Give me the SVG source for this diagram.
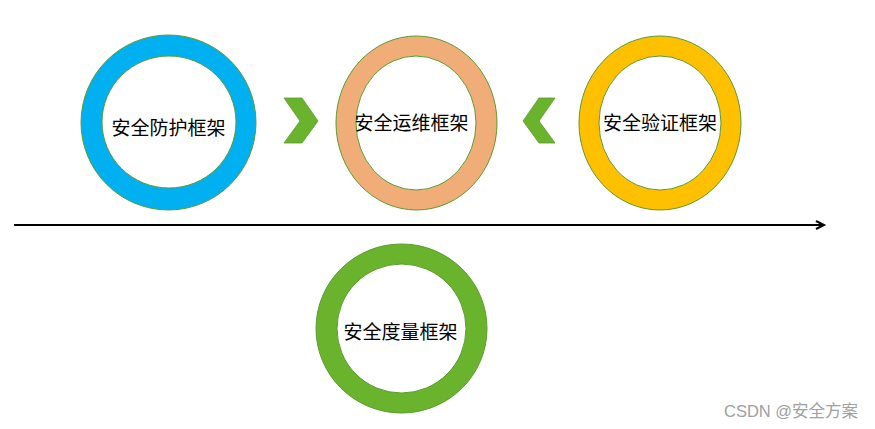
<svg xmlns="http://www.w3.org/2000/svg" width="875" height="429" viewBox="0 0 875 429">
<style>
.ring{fill-rule:evenodd;stroke:#5b9b2e;stroke-width:1}
.lbl{font-family:"Liberation Sans","Noto Sans CJK SC",sans-serif;font-size:19px;fill:#000;text-anchor:middle}
.chev{fill:#6ab42d;stroke:#5b9b2e;stroke-width:0.8}
.wm{font-family:"Liberation Sans","Noto Sans CJK SC",sans-serif;font-size:16.5px;fill:#a0a0a0}
</style>
<defs>
<marker id="ah" markerWidth="12" markerHeight="12" refX="9" refY="5" orient="auto" markerUnits="userSpaceOnUse">
<path d="M1,1 L9,5 L1,9" fill="none" stroke="#000" stroke-width="2"/>
</marker>
</defs>
<rect width="875" height="429" fill="#fff"/>
<g id="connectors">
<line x1="14" y1="225" x2="824" y2="225" stroke="#000" stroke-width="2" marker-end="url(#ah)"/>
<polygon class="chev" points="284,98 302,98 318,121 302,143 284,143 300,121"/>
<polygon class="chev" points="555,98 539,98 523,121 539,143 555,143 539,121"/>
</g>
<g id="n1">
<path class="ring" fill="#00b0f0" d="M81,122.5 a87.5,87.5 0 1,0 175,0 a87.5,87.5 0 1,0 -175,0 Z M102,122 a67,66 0 1,0 134,0 a67,66 0 1,0 -134,0 Z"/>
<text class="lbl" x="168.5" y="135">安全防护框架</text>
</g>
<g id="n2">
<path class="ring" fill="#f0ad78" d="M336,123 a80.5,87 0 1,0 161,0 a80.5,87 0 1,0 -161,0 Z M356,123 a60,67 0 1,0 120,0 a60,67 0 1,0 -120,0 Z"/>
<text class="lbl" x="411.5" y="129.5">安全运维框架</text>
</g>
<g id="n3">
<path class="ring" fill="#ffc000" d="M579,123 a81,87 0 1,0 162,0 a81,87 0 1,0 -162,0 Z M599,123 a61,67 0 1,0 122,0 a61,67 0 1,0 -122,0 Z"/>
<text class="lbl" x="660" y="129.5">安全验证框架</text>
</g>
<g id="n4">
<path class="ring" fill="#6ab42d" d="M316,328.5 a85.5,84.5 0 1,0 171,0 a85.5,84.5 0 1,0 -171,0 Z M337,328.5 a64.5,64.5 0 1,0 129,0 a64.5,64.5 0 1,0 -129,0 Z"/>
<text class="lbl" x="400.5" y="338.5">安全度量框架</text>
</g>
<text class="wm" x="724" y="417">CSDN @安全方案</text>
</svg>
